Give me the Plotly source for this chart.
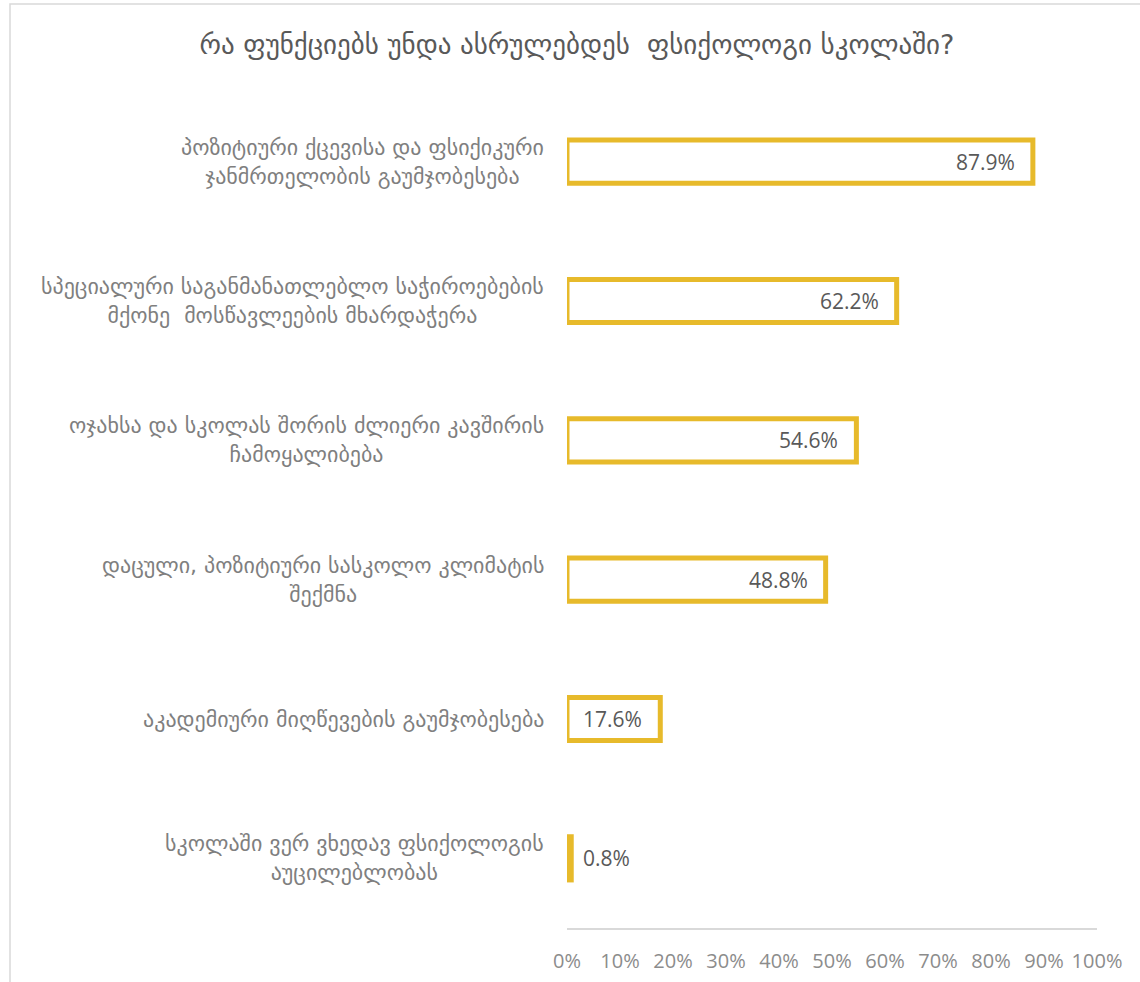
import plotly.graph_objects as go

# Survey answers: what functions should a school psychologist perform?
categories = [
    "პოზიტიური ქცევისა და ფსიქიკური<br>ჯანმრთელობის გაუმჯობესება",
    "სპეციალური საგანმანათლებლო საჭიროებების<br>მქონე\u00a0 მოსწავლეების მხარდაჭერა",
    "ოჯახსა და სკოლას შორის ძლიერი კავშირის<br>ჩამოყალიბება",
    "დაცული, პოზიტიური სასკოლო კლიმატის<br>შექმნა",
    "აკადემიური მიღწევების გაუმჯობესება",
    "სკოლაში ვერ ვხედავ ფსიქოლოგის<br>აუცილებლობას",
]
values = [87.9, 62.2, 54.6, 48.8, 17.6, 0.8]
tick_values = [0, 10, 20, 30, 40, 50, 60, 70, 80, 90, 100]
tick_labels = [f"{t}%" for t in tick_values]
title_text = "რა ფუნქციებს უნდა ასრულებდეს\u00a0 ფსიქოლოგი სკოლაში?"

GOLD = "#E7BA2B"
W, H = 1140, 982
L, R, T, B = 567, 43, 92, 54
plot_w = W - L - R
plot_h = H - T - B

fig = go.Figure()
fig.add_trace(
    go.Bar(
        x=values,
        y=categories,
        orientation="h",
        width=0.31,
        marker=dict(color="white", line=dict(color=GOLD, width=5)),
        hoverinfo="skip",
    )
)

annotations = []
# category labels, centred multi-line blocks right-aligned to the axis
for cat in categories:
    annotations.append(
        dict(
            x=0, xref="paper", y=cat, yref="y",
            xanchor="right", yanchor="middle", xshift=-21,
            text=cat, align="center", showarrow=False,
            font=dict(family="DejaVu Sans", size=22, color="#7F7F7F"),
        )
    )
# value labels: inside the bar end, or just past it for tiny bars
for cat, v in zip(categories, values):
    inside = v > 10
    annotations.append(
        dict(
            x=v, xref="x", y=cat, yref="y",
            xanchor="right" if inside else "left", yanchor="middle",
            xshift=-16 if inside else 10,
            text=f"{v:.1f}%", showarrow=False,
            font=dict(family="Open Sans", size=21, color="#595959"),
        )
    )

# light outer frame around the chart area
fig.add_shape(
    type="rect", xref="paper", yref="paper",
    x0=(10 - L) / plot_w, x1=(W + 10 - L) / plot_w,
    y0=-(B + 20) / plot_h, y1=1 + (T - 4) / plot_h,
    line=dict(color="#D9D9D9", width=1.5), fillcolor="rgba(0,0,0,0)",
    layer="below",
)

fig.update_layout(
    width=W, height=H,
    margin=dict(l=L, r=R, t=T, b=B, pad=0, autoexpand=False),
    paper_bgcolor="white", plot_bgcolor="white",
    showlegend=False,
    title=dict(
        text=title_text, xref="container", x=577 / W, xanchor="center",
        yref="container", y=1 - 45 / H, yanchor="middle",
        font=dict(family="DejaVu Sans", size=27, color="#595959"),
    ),
    xaxis=dict(
        range=[0, 100], tickvals=tick_values, ticktext=tick_labels,
        showgrid=False, zeroline=False, automargin=False,
        showline=True, linecolor="#D9D9D9", linewidth=1.5,
        ticks="", ticklabelstandoff=14,
        tickfont=dict(family="Open Sans", size=20, color="#8C8C8C"),
        fixedrange=True,
    ),
    yaxis=dict(
        categoryorder="array", categoryarray=categories,
        autorange="reversed", showticklabels=False, automargin=False,
        showgrid=False, zeroline=False, showline=False, fixedrange=True,
    ),
    annotations=annotations,
)

fig.write_html("out.html")
